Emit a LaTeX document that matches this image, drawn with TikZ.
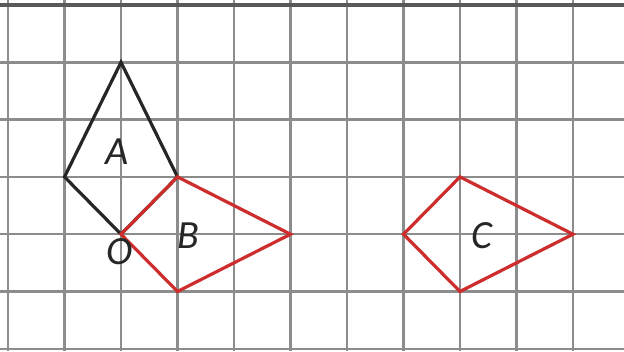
\documentclass[tikz,border=0pt]{standalone}
\usepackage{fontspec}
\setmainfont{Carlito}
\begin{document}
\begin{tikzpicture}[x=1pt,y=-1pt,
  gridline/.style={draw=gray!90,line width=2.4pt},
  blackshape/.style={draw=black!85,line width=3.2pt,line join=miter},
  redshape/.style={draw={rgb,255:red,205;green,45;blue,45},line width=3.2pt,line join=miter},
  lab/.style={font=\fontsize{40}{44}\selectfont\itshape,text=black!85,inner sep=0pt}]
\useasboundingbox[fill=white] (0,0) rectangle (624,351);
% grid
\foreach \i in {0,...,10} {\draw[gridline] (8+56.5*\i,0) -- (8+56.5*\i,351);}
\foreach \j in {1,...,6} {\draw[gridline] (0,5+57.3*\j) -- (624,5+57.3*\j);}
\draw[draw=gray!70!black,line width=3.5pt] (0,5) -- (624,5);
% vertices
\coordinate (Atop) at (121,62.3);
\coordinate (Aleft) at (64.5,176.9);
\coordinate (O) at (121,234.2);
\coordinate (Aright) at (177.5,176.9);
\coordinate (Bright) at (290.5,234.2);
\coordinate (Bbot) at (177.5,291.5);
\coordinate (Cleft) at (403.5,234.2);
\coordinate (Ctop) at (460,176.9);
\coordinate (Cright) at (573,234.2);
\coordinate (Cbot) at (460,291.5);
% shapes
\draw[blackshape] (Atop) -- (Aleft) -- (O) -- (Aright) -- cycle;
\draw[redshape] (O) -- (Aright) -- (Bright) -- (Bbot) -- cycle;
\draw[redshape] (Cleft) -- (Ctop) -- (Cright) -- (Cbot) -- cycle;
% labels
\node[lab] (la) at (117,152) {A};
\node[lab] (lb) at (188,236) {B};
\node[lab] (lc) at (482,236) {C};
\node[lab] (lo) at (120,252) {O};
\end{tikzpicture}
\end{document}
